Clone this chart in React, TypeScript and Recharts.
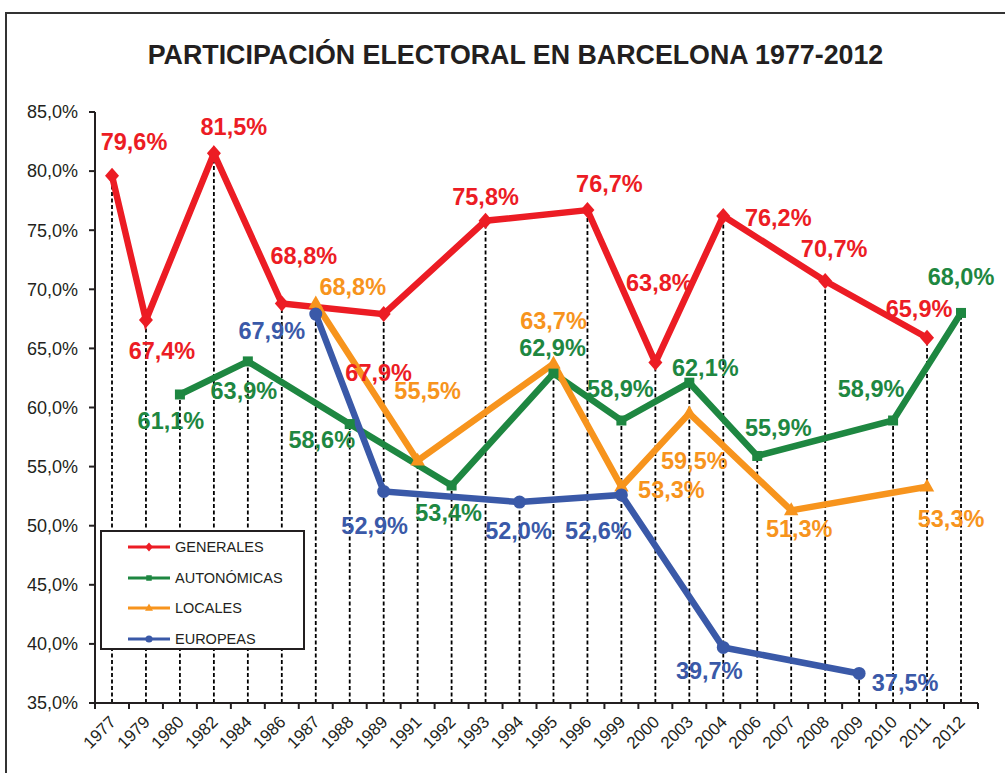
import React from 'react';
import {
  LineChart,
  Line,
  XAxis,
  YAxis,
  ReferenceLine,
  LabelList,
  Legend,
} from 'recharts';

// election years (category axis, evenly spaced)
const years = [
  '1977', '1979', '1980', '1982', '1984', '1986', '1987', '1988', '1989',
  '1991', '1992', '1993', '1994', '1995', '1996', '1999', '2000', '2003',
  '2004', '2006', '2007', '2008', '2009', '2010', '2011', '2012',
];

const generales = [
  79.6, 67.4, null, 81.5, null, 68.8, null, null, 67.9, null, null, 75.8, null,
  null, 76.7, null, 63.8, null, 76.2, null, null, 70.7, null, null, 65.9, null,
];
const autonomicas = [
  null, null, 61.1, null, 63.9, null, null, 58.6, null, null, 53.4, null, null,
  62.9, null, 58.9, null, 62.1, null, 55.9, null, null, null, 58.9, null, 68.0,
];
const locales = [
  null, null, null, null, null, null, 68.8, null, null, 55.5, null, null, null,
  63.7, null, 53.3, null, 59.5, null, null, 51.3, null, null, null, 53.3, null,
];
const europeas = [
  null, null, null, null, null, null, 67.9, null, 52.9, null, null, null, 52.0,
  null, null, 52.6, null, null, 39.7, null, null, null, 37.5, null, null, null,
];

const yTicks = [35, 40, 45, 50, 55, 60, 65, 70, 75, 80, 85];

const data = years.map((year, i) => ({
  year,
  generales: generales[i],
  autonomicas: autonomicas[i],
  locales: locales[i],
  europeas: europeas[i],
}));

// highest point per year -> dashed drop line down to the axis
const dropTops = years.map((year, i) => ({
  year,
  top: Math.max(
    ...[generales[i], autonomicas[i], locales[i], europeas[i]].filter(
      (v): v is number => v != null
    )
  ),
}));

// label placement (dx, dy from the point), by year
const labelOffsets: Record<string, Record<string, [number, number]>> = {
  generales: {
    '1977': [22, -34], '1979': [16, 31], '1982': [20, -26], '1986': [22, -47],
    '1989': [-5, 59], '1993': [0, -24], '1996': [22, -26], '2000': [4, -80],
    '2004': [55, 2], '2008': [9, -32], '2011': [-8, -29],
  },
  autonomicas: {
    '1980': [-9, 27], '1984': [-4, 30], '1988': [-28, 16], '1992': [-3, 27],
    '1995': [-1, -25], '1999': [-1, -32], '2003': [16, -15], '2006': [21, -28],
    '2010': [-22, -32], '2012': [0, -36],
  },
  locales: {
    '1987': [37, -16], '1991': [10, -70], '1995': [0, -43], '1999': [50, 3],
    '2003': [5, 48], '2007': [8, 19], '2011': [24, 32],
  },
  europeas: {
    '1987': [-44, 17], '1989': [-9, 35], '1994': [-1, 29], '1999': [-23, 36],
    '2004': [-14, 24], '2009': [46, 10],
  },
};

const FONT = "'Liberation Sans', Arial, Helvetica, sans-serif";
const INK = '#231f20';

const series = [
  { key: 'generales', name: 'GENERALES', color: '#ec1c24', shape: 'diamond' },
  { key: 'autonomicas', name: 'AUTONÓMICAS', color: '#1e8741', shape: 'square' },
  { key: 'locales', name: 'LOCALES', color: '#f7941d', shape: 'triangle' },
  { key: 'europeas', name: 'EUROPEAS', color: '#3a59a8', shape: 'circle' },
];

const W = 1005;
const H = 773;
const Y_AXIS_W = 60;
const MARGIN = { top: 112, right: 27, bottom: 10, left: 35 };
const X_AXIS_H = 60;
const PAD = 17;
const plotW = W - MARGIN.left - Y_AXIS_W - MARGIN.right;
const half = (plotW - 2 * PAD) / (years.length - 1) / 2;

function Marker({ cx, cy, shape, color, s = 1 }: any) {
  if (cx == null || cy == null) return null;
  if (shape === 'diamond') {
    const w = 7 * s, h = 8 * s;
    return <polygon points={`${cx},${cy - h} ${cx + w},${cy} ${cx},${cy + h} ${cx - w},${cy}`} fill={color} />;
  }
  if (shape === 'square') {
    const r = 5 * s;
    return <rect x={cx - r} y={cy - r} width={2 * r} height={2 * r} fill={color} />;
  }
  if (shape === 'triangle') {
    const r = 8 * s;
    return <polygon points={`${cx},${cy - r} ${cx + r * 0.9},${cy + r * 0.6} ${cx - r * 0.9},${cy + r * 0.6}`} fill={color} />;
  }
  return <circle cx={cx} cy={cy} r={6.5 * s} fill={color} />;
}

const fmt = (v: number) => `${v.toFixed(1).replace('.', ',')}%`;

function XTick({ x, y, payload, index }: any) {
  const last = index === years.length - 1;
  const ax = x + 5;
  const ay = y + 20;
  return (
    <g>
      <line x1={x - half} x2={x - half} y1={y} y2={y + 6} stroke={INK} strokeWidth={2} />
      {last && <line x1={x + half} x2={x + half} y1={y} y2={y + 6} stroke={INK} strokeWidth={2} />}
      <text
        x={ax}
        y={ay}
        transform={`rotate(-45, ${ax}, ${ay})`}
        textAnchor="end"
        fontFamily={FONT}
        fontSize={17}
        fill={INK}
      >
        {payload.value}
      </text>
    </g>
  );
}

function LegendBox() {
  return (
    <div
      style={{
        width: 205,
        height: 120,
        border: `2px solid ${INK}`,
        background: '#fff',
        boxSizing: 'border-box',
        paddingTop: 0,
      }}
    >
      {series.map((s) => (
        <div key={s.key} style={{ display: 'flex', alignItems: 'center', height: 30.5 }}>
          <svg width={44} height={14} style={{ marginLeft: 25, marginRight: 4 }}>
            <line x1={1} x2={43} y1={7} y2={7} stroke={s.color} strokeWidth={3} />
            <Marker cx={22} cy={7} shape={s.shape} color={s.color} s={0.55} />
          </svg>
          <span style={{ fontFamily: FONT, fontSize: 14.5, color: INK }}>{s.name}</span>
        </div>
      ))}
    </div>
  );
}

export default function App() {
  return (
    <div style={{ position: 'absolute', left: 0, top: 0, width: W, height: H, background: '#fff', overflow: 'hidden' }}>
      <div
        style={{
          position: 'absolute',
          left: 5,
          top: 12,
          width: W,
          height: H,
          borderLeft: '2px solid #333',
          borderTop: '2px solid #333',
        }}
      />
      <div
        style={{
          position: 'absolute',
          left: 0,
          top: 42,
          width: 1031,
          textAlign: 'center',
          fontFamily: FONT,
          fontWeight: 'bold',
          fontSize: 26.8,
          lineHeight: '26px',
          color: INK,
        }}
      >
        PARTICIPACIÓN ELECTORAL EN BARCELONA 1977-2012
      </div>
      <div style={{ position: 'absolute', left: 0, top: 0 }}>
        <LineChart width={W} height={H} data={data} margin={MARGIN}>
          <XAxis
            dataKey="year"
            type="category"
            interval={0}
            padding={{ left: PAD, right: PAD }}
            height={X_AXIS_H}
            axisLine={{ stroke: INK, strokeWidth: 2 }}
            tickLine={false}
            tickSize={0}
            tickMargin={0}
            tick={<XTick />}
          />
          <YAxis
            domain={[35, 85]}
            ticks={yTicks}
            width={Y_AXIS_W}
            allowDataOverflow
            axisLine={{ stroke: INK, strokeWidth: 2 }}
            tickLine={{ stroke: INK, strokeWidth: 2 }}
            tickSize={6}
            tickMargin={11}
            tickFormatter={fmt}
            tick={{ fontFamily: FONT, fontSize: 18, fill: INK }}
          />
          {dropTops.map((d) => (
            <ReferenceLine
              key={d.year}
              segment={[
                { x: d.year, y: 35 },
                { x: d.year, y: d.top },
              ]}
              stroke="#000"
              strokeWidth={1.8}
              strokeDasharray="4 2.5"
            />
          ))}
          <Legend
            layout="vertical"
            align="center"
            verticalAlign="middle"
            wrapperStyle={{ position: 'absolute', left: 100, top: 530, width: 'auto', zIndex: 10 }}
            content={() => <LegendBox />}
          />
          {series.map((s) => (
            <Line
              key={s.key}
              dataKey={s.key}
              name={s.name}
              stroke={s.color}
              strokeWidth={6.5}
              connectNulls
              isAnimationActive={false}
              activeDot={false}
              dot={(p: any) => (
                <g key={`${s.key}-${p.index}`}>
                  {p.value != null && <Marker cx={p.cx} cy={p.cy} shape={s.shape} color={s.color} />}
                </g>
              )}
            >
              <LabelList
                dataKey={s.key}
                content={(p: any) => {
                  if (p.value == null || p.x == null) return null;
                  const yr = years[p.index];
                  const off = labelOffsets[s.key][yr] || [0, -20];
                  return (
                    <text
                      x={p.x + off[0]}
                      y={p.y + off[1]}
                      textAnchor="middle"
                      dominantBaseline="central"
                      fontFamily={FONT}
                      fontWeight="bold"
                      fontSize={23.5}
                      fill={s.color}
                    >
                      {fmt(p.value)}
                    </text>
                  );
                }}
              />
            </Line>
          ))}
        </LineChart>
      </div>
    </div>
  );
}
